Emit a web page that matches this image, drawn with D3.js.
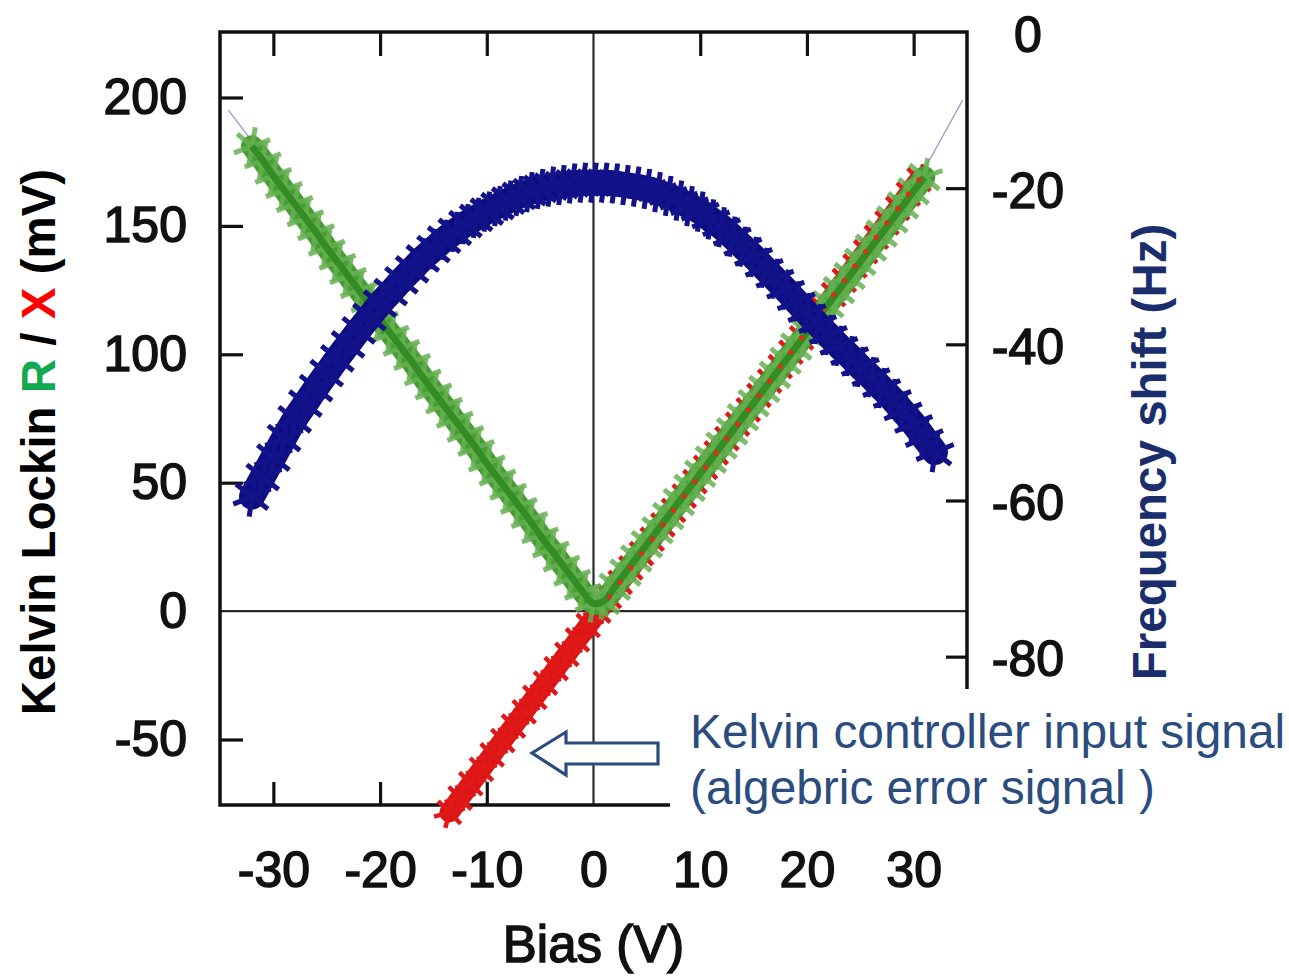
<!DOCTYPE html>
<html>
<head>
<meta charset="utf-8">
<script src="https://cdn.jsdelivr.net/npm/d3@7"></script>
<style>
  html, body { margin: 0; padding: 0; background: #fff; }
  svg { display: block; }
</style>
</head>
<body>
<svg id="chart" width="1289" height="977"></svg>
<script>
// ---------- data ----------
const biasF = [-32,-31,-30,-29,-28,-27,-26,-25,-24,-23,-22,-21,-20,-19,-18,-17,-16,-15,-14,-13,-12,-11,-10,-9,-8,-7,-6,-5,-4,-3,-2,-1,0,1,2,3,4,5,6,7,8,9,10,11,12,13,14,15,16,17,18,19,20,21,22,23,24,25,26,27,28,29,30,31,32];
const freqShift = [-59.5,-57.0,-54.5,-52.0,-49.6,-47.6,-45.6,-43.7,-41.8,-40.0,-38.2,-36.5,-34.8,-33.3,-31.8,-30.4,-29.0,-27.8,-26.6,-25.6,-24.6,-23.8,-23.0,-22.3,-21.6,-21.0,-20.5,-20.1,-19.8,-19.6,-19.4,-19.3,-19.3,-19.3,-19.4,-19.6,-19.8,-20.1,-20.5,-21.0,-21.6,-22.3,-23.0,-24.0,-25.0,-26.2,-27.5,-28.8,-30.2,-31.6,-33.0,-34.5,-36.0,-37.4,-38.8,-40.2,-41.5,-42.9,-44.2,-45.6,-47.0,-48.6,-50.2,-52.0,-53.8];

const biasR = [-32,-31,-30,-29,-28,-27,-26,-25,-24,-23,-22,-21,-20,-19,-18,-17,-16,-15,-14,-13,-12,-11,-10,-9,-8,-7,-6,-5,-4,-3,-2,-1,0,1,2,3,4,5,6,7,8,9,10,11,12,13,14,15,16,17,18,19,20,21,22,23,24,25,26,27,28,29,30,31];
const lockinR = [181,175.5,169.5,164,158.5,153,147.5,141.5,136,130.5,125,119.5,113.5,108,102.5,97,91,85.5,80,74.5,69,63.5,57.5,52,46.5,41,35.5,29.5,24,18.5,13,7.5,3,4,9.5,15,20.5,26,31.5,37,42.5,48,53.5,59,64.5,70,75.5,81,86.5,92,97.5,103,108.5,114,119.5,125,130.5,136,141.5,147,152.5,158,163.5,169];

const biasX = [-13.5,-12.5,-11.5,-10.5,-9.5,-8.5,-7.5,-6.5,-5.5,-4.5,-3.5,-2.5,-1.5,-0.5,0.5,1.5,2.5,3.5,4.5,5.5,6.5,7.5,8.5,9.5,10.5,11.5,12.5,13.5,14.5,15.5,16.5,17.5,18.5,19.5,20.5,21.5,22.5,23.5,24.5,25.5,26.5,27.5,28.5,29.5,30.5];
const lockinX = [-78.4,-72.8,-67.2,-61.6,-56,-50.4,-44.8,-39.2,-33.6,-28,-22.4,-16.8,-11.2,-5.6,0,5.6,11.2,16.8,22.4,28,33.6,39.2,44.8,50.4,56,61.6,67.2,72.8,78.4,84,89.6,95.2,100.8,106.4,112,117.6,123.2,128.8,134.4,140,145.6,151.2,156.8,162.4,168];

// thin fitted line visible at the ends of R
const fitBias = [-34.2, -32, 0.3, 31, 34.6];
const fitR = [195, 183, 0, 172, 199];

const xTicks = [-30,-20,-10,0,10,20,30];
const yLeftTicks = [-50,0,50,100,150,200];
const yRightTicks = [0,-20,-40,-60,-80];

// ---------- layout ----------
const svg = d3.select("#chart");
const L = 220, R = 967, T = 32, B = 805;
const x = d3.scaleLinear().domain([-35, 35]).range([L, R]);
const yL = d3.scaleLinear().domain([-75.5, 225.5]).range([B, T]);
const yR = d3.scaleLinear().domain([-99, 0]).range([B, T]);

const font = "'Liberation Sans', Arial, Helvetica, sans-serif";
const navy = "#1a2d6c";
const annot = "#2b4c7e";

// zero lines
svg.append("line").attr("x1", L).attr("x2", R).attr("y1", yL(0)).attr("y2", yL(0))
  .attr("stroke", "#2a2a2a").attr("stroke-width", 2.2);
svg.append("line").attr("x1", x(0)).attr("x2", x(0)).attr("y1", T).attr("y2", B)
  .attr("stroke", "#2a2a2a").attr("stroke-width", 2.2);

// frame
svg.append("rect").attr("x", L).attr("y", T).attr("width", R - L).attr("height", B - T)
  .attr("fill", "none").attr("stroke", "#111").attr("stroke-width", 3.5);

// axes
function styleAxis(g) {
  g.select(".domain").remove();
  g.selectAll(".tick line").attr("stroke", "#111").attr("stroke-width", 3.2);
  g.selectAll(".tick text").attr("font-family", font).attr("font-size", 50)
    .attr("fill", "#111").attr("stroke", "#111").attr("stroke-width", 1.5);
}
const gB = svg.append("g").attr("transform", `translate(0,${B})`)
  .call(d3.axisBottom(x).tickValues(xTicks).tickSizeInner(-23).tickSizeOuter(0).tickPadding(46).tickFormat(d3.format("d")));
styleAxis(gB);
gB.selectAll(".tick").filter(d => d === 0).select("line").remove();
gB.selectAll(".tick text").text(d => String(d)).attr("dy", "0.71em");

const gT = svg.append("g").attr("transform", `translate(0,${T})`)
  .call(d3.axisTop(x).tickValues(xTicks.filter(d => d !== 0)).tickSizeInner(-24).tickSizeOuter(0).tickFormat(""));
styleAxis(gT);

const gL = svg.append("g").attr("transform", `translate(${L},0)`)
  .call(d3.axisLeft(yL).tickValues(yLeftTicks).tickSizeInner(-23).tickSizeOuter(0).tickPadding(33).tickFormat(d => String(d)));
styleAxis(gL);
gL.selectAll(".tick").filter(d => d === 0).select("line").remove();

const gR = svg.append("g").attr("transform", `translate(${R},0)`)
  .call(d3.axisRight(yR).tickValues(yRightTicks).tickSizeInner(-21).tickSizeOuter(0).tickPadding(61).tickFormat(d => String(d)));
styleAxis(gR);
gR.selectAll(".tick").filter(d => d === 0).select("line").remove();
gR.selectAll(".tick text").attr("text-anchor", "middle").attr("dy", "0.38em");

// ---------- data marks ----------
const dataG = svg.append("g");
const lineGen = d3.line().curve(d3.curveCatmullRom);

function band(pts, opt) {
  dataG.append("path").attr("d", lineGen(pts)).attr("fill", "none")
    .attr("stroke", opt.band).attr("stroke-width", opt.width).attr("stroke-linecap", "round")
    .attr("stroke-linejoin", "round").attr("opacity", opt.bandOpacity || 1);
  const sym = d3.symbol().type(d3.symbolAsterisk).size(opt.symSize);
  dataG.append("g").selectAll("path").data(pts).join("path")
    .attr("d", sym).attr("transform", d => `translate(${d[0]},${d[1]}) rotate(${opt.rot || 0})`)
    .attr("fill", "none").attr("stroke", opt.mark).attr("stroke-width", opt.symStroke)
    .attr("opacity", opt.markOpacity || 1);
}

const ptsF = biasF.map((v, i) => [x(v), yR(freqShift[i])]);
const ptsR = biasR.map((v, i) => [x(v), yL(lockinR[i])]);
const ptsX = biasX.map((v, i) => [x(v), yL(lockinX[i])]);

// thin fit line
dataG.append("path").attr("d", d3.line()(fitBias.map((v, i) => [x(v), yL(fitR[i])])))
  .attr("fill", "none").attr("stroke", "#9a9ac8").attr("stroke-width", 1.3);

// red X
band(ptsX, {band: "#d81414", width: 20, mark: "#e01818", symSize: 720, symStroke: 4.5, rot: 15});
// green R
band(ptsR, {band: "#449c32", width: 22, mark: "#66b052", symSize: 1050, symStroke: 5, rot: 10, markOpacity: 0.85});
dataG.append("path").attr("d", lineGen(ptsR)).attr("fill", "none")
  .attr("stroke", "#338c24").attr("stroke-width", 7);
// red specks visible through green
dataG.append("g").selectAll("circle").data(ptsX.filter((d, i) => lockinX[i] > 4)).join("circle")
  .attr("cx", d => d[0]).attr("cy", d => d[1]).attr("r", 2.6).attr("fill", "#d8301a");
// blue frequency shift
band(ptsF, {band: "#0d0d80", width: 26, mark: "#12128a", symSize: 1150, symStroke: 5, rot: 8});

// ---------- annotation ----------
svg.append("rect").attr("x", 670).attr("y", 689).attr("width", 619).attr("height", 140).attr("fill", "#fff");
const arrowPts = [[532,753],[566,732],[566,743],[658,743],[658,764],[566,764],[566,775]];
svg.append("polygon").attr("points", arrowPts.map(p => p.join(",")).join(" "))
  .attr("fill", "#fff").attr("stroke", annot).attr("stroke-width", 3.2).attr("stroke-linejoin", "miter");
svg.append("text").attr("x", 690).attr("y", 748).attr("font-family", font).attr("font-size", 47.8)
  .attr("fill", annot).text("Kelvin controller input signal");
svg.append("text").attr("x", 690).attr("y", 804).attr("font-family", font).attr("font-size", 47.8)
  .attr("fill", annot).text("(algebric error signal )");

// ---------- axis titles ----------
svg.append("text").attr("x", x(0)).attr("y", 962).attr("text-anchor", "middle")
  .attr("font-family", font).attr("font-size", 51).attr("fill", "#111")
  .attr("stroke", "#111").attr("stroke-width", 1.5).text("Bias (V)");

const yt = svg.append("text").attr("transform", "translate(55,442) rotate(-90)")
  .attr("text-anchor", "middle").attr("font-family", font).attr("font-size", 47.5)
  .attr("font-weight", "bold").attr("fill", "#000");
yt.append("tspan").text("Kelvin Lockin ");
yt.append("tspan").attr("fill", "#12a84e").text("R");
yt.append("tspan").text(" / ");
yt.append("tspan").attr("fill", "#ff0000").text("X");
yt.append("tspan").text(" (mV)");

svg.append("text").attr("transform", "translate(1166,452) rotate(-90)")
  .attr("text-anchor", "middle").attr("font-family", font).attr("font-size", 47.5)
  .attr("font-weight", "bold").attr("fill", navy).text("Frequency shift (Hz)");
</script>
</body>
</html>
